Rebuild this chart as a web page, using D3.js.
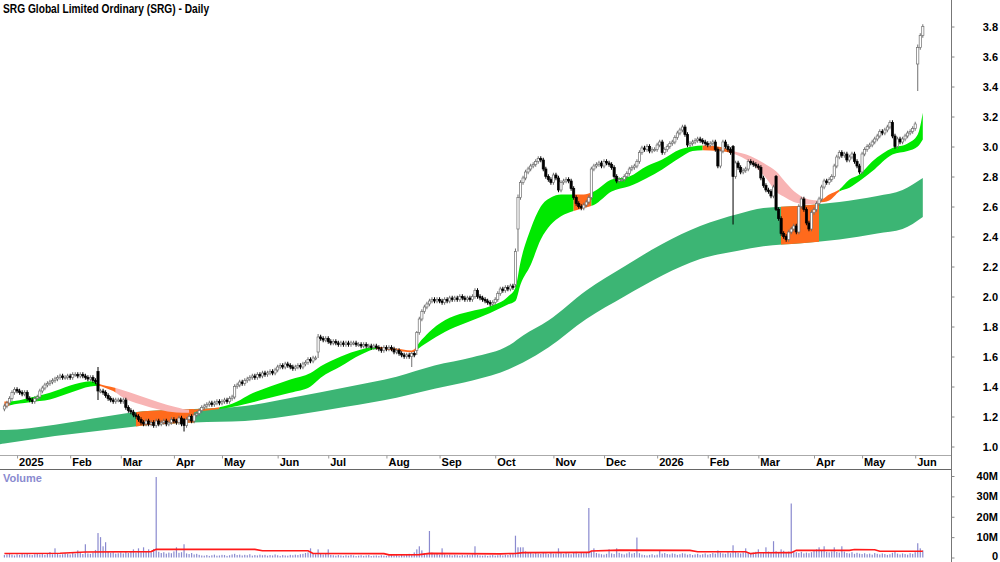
<!DOCTYPE html>
<html lang="en">
<head>
<meta charset="UTF-8">
<title>SRG Global Limited Ordinary (SRG) - Daily</title>
<style>
  body { margin: 0; background: #fff; }
  svg text { font-family: "Liberation Sans", Arial, sans-serif; font-weight: bold; }
  .up { fill: #fff; stroke: #707070; stroke-width: 0.7px; }
  .down { fill: #000; stroke: #000; stroke-width: 0.7px; }
  .wick-up { stroke: #707070; stroke-width: 1px; }
  .wick-down { stroke: #000; stroke-width: 1px; }
</style>
</head>
<body>
<script src="https://d3js.org/d3.v7.min.js"></script>
<script>
// one close per ASX trading day, 23 Dec 2024 .. 4 Jun 2026
const closes = [
  1.27,1.29,1.32,1.36,1.38, 1.37,1.36,1.35,1.36,1.32, 1.31,1.30,1.32,1.33,1.37,
  1.39,1.41,1.42,1.43,1.44, 1.45,1.46,1.47,1.46,1.46, 1.47,1.46,1.48,1.48,1.47,
  1.48,1.47,1.46,1.45,1.46, 1.44,1.43,1.37,1.37,1.36, 1.34,1.32,1.31,1.30,1.31,
  1.31,1.30,1.31,1.26,1.24, 1.23,1.21,1.20,1.18,1.16, 1.15,1.17,1.15,1.16,1.14,
  1.17,1.15,1.16,1.17,1.15, 1.16,1.18,1.17,1.16,1.19, 1.15,1.14,1.18,1.20,1.17,
  1.21,1.22,1.24,1.26,1.27, 1.28,1.29,1.28,1.29,1.30, 1.29,1.30,1.31,1.30,1.32,
  1.33,1.40,1.41,1.43,1.42, 1.44,1.45,1.46,1.47,1.46, 1.48,1.47,1.49,1.48,1.49,
  1.50,1.49,1.51,1.53,1.54, 1.53,1.55,1.54,1.53,1.52, 1.53,1.54,1.53,1.55,1.56,
  1.58,1.57,1.59,1.59,1.73, 1.72,1.71,1.72,1.70,1.69, 1.70,1.69,1.68,1.69,1.68,
  1.69,1.68,1.69,1.69,1.68, 1.68,1.67,1.68,1.67,1.67, 1.66,1.67,1.66,1.65,1.64,
  1.66,1.65,1.66,1.65,1.63, 1.64,1.62,1.61,1.60,1.61, 1.60,1.62,1.61,1.76,1.85,
  1.90,1.93,1.95,1.97,1.98, 1.97,1.98,1.97,1.96,1.98, 1.97,1.99,1.98,1.99,1.98,
  2.00,1.99,1.98,1.99,1.98, 2.00,2.04,2.00,1.99,1.98, 1.97,1.96,1.95,1.96,1.98,
  2.02,2.05,2.04,2.06,2.05, 2.07,2.06,2.30,2.66,2.76, 2.79,2.83,2.85,2.87,2.88,
  2.90,2.92,2.91,2.85,2.80, 2.78,2.76,2.81,2.79,2.71, 2.76,2.77,2.78,2.77,2.72,
  2.66,2.62,2.60,2.59,2.61, 2.63,2.66,2.85,2.87,2.88, 2.89,2.87,2.90,2.89,2.88,
  2.86,2.80,2.77,2.78,2.78, 2.80,2.82,2.85,2.86,2.87, 2.90,2.96,2.99,2.98,3.00,
  2.97,2.98,2.98,3.01,3.03, 2.96,2.98,3.00,3.02,3.03, 3.06,3.09,3.11,3.13,3.08,
  3.01,3.02,3.03,3.04,3.05, 3.04,3.03,3.02,3.01,3.02, 3.03,2.98,2.87,2.97,3.03,
  3.00,2.98,2.96,2.80,2.89, 2.86,2.83,2.84,2.85,2.90, 2.89,2.88,2.87,2.86,2.79,
  2.74,2.71,2.70,2.67,2.73, 2.58,2.52,2.42,2.40,2.38, 2.43,2.45,2.47,2.43,2.60,
  2.65,2.58,2.49,2.45,2.56, 2.58,2.62,2.65,2.73,2.77, 2.76,2.78,2.80,2.87,2.93,
  2.96,2.94,2.95,2.91,2.93, 2.95,2.90,2.87,2.83,2.95, 2.98,3.00,3.01,3.03,3.05,
  3.07,3.10,3.09,3.11,3.13, 3.16,3.07,3.00,3.05,3.03, 3.05,3.07,3.09,3.10,3.12,
  3.15,3.66,3.74,3.80
];

// bars with a gap open or a long wick: [day, open, high, low]
const bigBars = [
  [37, 1.50, 1.53, 1.31], [71, 1.18, 1.19, 1.10], [124, 1.63, 1.75, 1.59],
  [161, 1.60, 1.63, 1.53], [163, 1.64, 1.77, 1.61], [202, 2.08, 2.32, 2.06],
  [203, 2.45, 2.68, 2.30], [288, 3.00, 3.01, 2.48], [305, 2.80, 2.81, 2.57],
  [361, 3.55, 3.68, 3.37]
];

// daily volume, millions of shares
const volumes = [
  1.2,1.5,1.8,1.4,1.0,1.6,1.3,1.7,1.5,2.0, 1.4,1.2,1.6,1.9,1.5,1.7,1.3,1.8,2.7,1.6,
  4.5,1.9,1.4,1.6,2.1,1.8,1.5,2.3,1.9,3.5, 2.2,1.7,6.5,2.0,1.8,2.4,3.7,12,10,5.5,
  7.5,2.8,2.3,2.6,1.9,2.1,2.5,2.0,2.7,2.2, 2.9,4.0,2.4,4.5,2.6,5.0,3.1,4.0,2.5,4.2,
  39.5,2.8,2.2,2.6,1.9,2.4,2.1,3.0,5.0,2.3, 2.6,6.5,2.0,1.7,2.2,1.5,1.8,1.3,1.0,0.9,
  1.2,0.8,1.1,1.4,0.9,1.0,1.3,1.2,0.8,1.1, 1.5,1.8,1.2,1.4,1.0,1.3,1.1,1.6,0.9,1.2,
  1.0,1.4,1.1,1.3,0.9,1.2,1.0,1.5,1.1,0.8, 1.2,1.0,0.9,1.3,1.1,1.4,1.2,1.6,1.8,2.2,
  2.5,4.5,1.8,1.6,4.0,2.2,1.5,1.9,4.0,1.3, 1.1,0.9,1.2,1.0,0.8,1.1,0.9,1.3,1.0,0.7,
  0.9,1.1,0.8,1.0,1.2,0.7,0.9,1.0,0.8,1.1, 0.9,0.8,1.0,1.2,0.9,1.1,0.8,1.3,1.0,1.4,
  1.8,1.2,2.5,4.0,5.5,3.5,2.1,1.9,13,2.4, 1.6,1.8,1.4,4.5,1.5,1.2,1.4,1.0,1.3,1.1,
  0.9,1.2,1.0,1.3,1.1,1.5,5.5,1.2,1.0,0.9, 1.1,0.8,1.0,1.2,0.9,1.1,1.3,1.0,1.4,1.2,
  1.5,1.8,10.7,5.0,5.0,5.0,3.0,2.5,2.2,1.9, 2.4,2.0,1.8,2.6,2.1,1.7,2.3,1.9,2.0,4.5,
  2.2,1.8,2.5,2.0,1.6,2.3,2.8,1.9,2.4,2.1, 2.6,24.3,3.0,4.5,2.2,1.9,1.6,1.4,1.8,4.0,
  2.0,1.7,4.5,2.3,1.8,1.5,2.0,2.6,1.9,2.2, 9.8,2.1,1.4,1.2,1.0,1.3,1.6,1.1,1.4,3.5,
  1.9,2.2,1.7,1.5,2.0,1.8,1.3,1.6,2.1,1.9, 1.4,1.7,1.2,1.5,1.8,1.3,1.6,2.0,1.4,1.7,
  2.2,1.9,3.5,2.4,2.0,1.8,2.6,2.1,6.0,2.7, 2.3,2.0,2.5,4.5,2.2,1.9,2.4,2.8,4.0,2.1,
  2.6,5.0,2.9,2.3,8.0,3.1,2.7,4.0,3.3,2.4, 2.9,26.5,3.2,2.6,2.2,2.8,2.0,2.4,2.1,2.6,
  3.5,4.0,5.0,3.2,5.5,2.8,2.5,3.0,5.0,2.7, 2.4,5.5,2.9,2.2,2.0,2.6,1.8,2.3,1.9,1.7,
  2.1,1.6,1.9,1.4,2.2,1.8,1.5,2.0,1.7,1.3, 1.6,2.3,2.8,1.9,1.5,2.0,1.7,1.4,2.1,1.8,
  2.6,7.0,4.5,3.5
];

// volume average (red line): [day, millions]
const volumeAvg = [
  [0, 2.0], [22, 2.1], [32, 2.7], [58, 2.9], [60, 4.0], [99, 4.0], [102, 3.3],
  [120, 3.3], [122, 2.0], [150, 1.9], [152, 1.3], [164, 1.4], [168, 2.0],
  [196, 1.8], [202, 2.0], [205, 2.4], [231, 2.5], [232, 3.2], [243, 3.6],
  [271, 3.5], [274, 2.8], [293, 2.8], [295, 1.9], [298, 2.3], [311, 2.4],
  [313, 3.5], [334, 3.5], [336, 3.9], [344, 3.8], [346, 3.1], [363, 3.1]
];

// short-term ribbon: [day, top, bottom]
const shortBand = [
  [0, 1.30, 1.26], [2, 1.30, 1.273], [10, 1.325, 1.295], [18, 1.358, 1.313],
  [26, 1.407, 1.358], [34, 1.435, 1.40], [37, 1.42, 1.405], [40, 1.405, 1.39],
  [44, 1.39, 1.36], [46, 1.38, 1.335], [54, 1.335, 1.28], [61, 1.295, 1.247],
  [68, 1.262, 1.227], [73, 1.245, 1.225], [77, 1.25, 1.235], [85, 1.262, 1.25],
  [92, 1.30, 1.27], [97, 1.347, 1.29], [105, 1.40, 1.325], [113, 1.447, 1.358],
  [121, 1.49, 1.40], [125, 1.535, 1.458], [133, 1.60, 1.535], [141, 1.647, 1.613],
  [147, 1.665, 1.65], [154, 1.655, 1.64], [161, 1.64, 1.628], [165, 1.713, 1.67],
  [169, 1.78, 1.713], [176, 1.858, 1.78], [184, 1.90, 1.835], [192, 1.935, 1.89],
  [199, 1.998, 1.947], [202, 2.06, 1.97], [204, 2.23, 2.08], [208, 2.45, 2.21],
  [212, 2.60, 2.38], [216, 2.66, 2.48], [220, 2.68, 2.535], [225, 2.68, 2.57],
  [229, 2.68, 2.59], [233, 2.70, 2.61], [240, 2.78, 2.70], [247, 2.80, 2.735],
  [254, 2.87, 2.79], [260, 2.913, 2.847], [267, 2.98, 2.925], [272, 3.00, 2.97],
  [276, 3.007, 2.975], [282, 3.00, 2.97], [288, 2.97, 2.953], [295, 2.935, 2.89],
  [301, 2.88, 2.79], [305, 2.835, 2.70], [309, 2.757, 2.657], [313, 2.69, 2.625],
  [318, 2.647, 2.613], [322, 2.64, 2.625], [326, 2.68, 2.64], [330, 2.713, 2.70],
  [334, 2.78, 2.725], [338, 2.813, 2.77], [343, 2.90, 2.835], [351, 2.99, 2.947],
  [357, 3.02, 2.97], [361, 3.08, 3.00], [363, 3.225, 3.047]
];

// long-term ribbon: [day, top, bottom]
const longBand = [
  [-2, 1.11, 1.015], [0, 1.11, 1.02], [20, 1.145, 1.07], [40, 1.20, 1.11],
  [55, 1.235, 1.14], [75, 1.25, 1.16], [95, 1.27, 1.17], [115, 1.33, 1.21],
  [135, 1.395, 1.265], [155, 1.465, 1.325], [170, 1.54, 1.385], [185, 1.595, 1.44],
  [200, 1.68, 1.52], [205, 1.74, 1.56], [215, 1.84, 1.66], [230, 2.04, 1.85],
  [245, 2.20, 2.00], [260, 2.35, 2.14], [275, 2.47, 2.25], [290, 2.55, 2.305],
  [300, 2.59, 2.335], [315, 2.605, 2.355], [330, 2.63, 2.38], [345, 2.67, 2.42],
  [355, 2.71, 2.45], [363, 2.79, 2.53]
];

// ribbon colouring: [from day, to day, state]
const shortStates = [
  [0, 2, 'mixed'], [2, 37, 'up'], [37, 44, 'mixed'], [44, 73, 'down'],
  [73, 85, 'mixed'], [85, 147, 'up'], [147, 163, 'mixed'], [163, 225, 'up'],
  [225, 232, 'mixed'], [232, 276, 'up'], [276, 288, 'mixed'], [288, 322, 'down'],
  [322, 330, 'mixed'], [330, 363, 'up']
];
const longMixed = [[52, 75], [307, 322]];

const priceTicks = [1.0, 1.2, 1.4, 1.6, 1.8, 2.0, 2.2, 2.4, 2.6, 2.8, 3.0, 3.2, 3.4, 3.6, 3.8];
const volumeTicks = [0, 10, 20, 30, 40];
const holidays = ['2024-12-25', '2024-12-26', '2025-01-01', '2025-01-27', '2025-04-18',
  '2025-04-21', '2025-04-25', '2025-06-09', '2025-12-25', '2025-12-26', '2026-01-01',
  '2026-01-26', '2026-04-03', '2026-04-06', '2026-04-27'];

const stateColour = { up: '#00e800', down: '#f8b4b4', mixed: '#ff6a1c' };

const width = 1000;
const height = 562;
const axisX = 951;

// trading calendar
const days = [];
const cur = new Date(Date.UTC(2024, 11, 23));
while (days.length < closes.length) {
  const wd = cur.getUTCDay();
  const key = cur.toISOString().slice(0, 10);
  if (wd !== 0 && wd !== 6 && !holidays.includes(key)) days.push(new Date(cur));
  cur.setUTCDate(cur.getUTCDate() + 1);
}

const x = d3.scaleLinear().domain([0, 363]).range([4.4, 922.8]);
const y = d3.scaleLinear().domain([1.0, 3.8]).range([446.5, 26.5]);
const yv = d3.scaleLinear().domain([0, 40]).range([557.5, 476]);

const svg = d3.select('body').append('svg')
  .attr('width', width)
  .attr('height', height);

svg.append('rect').attr('width', width).attr('height', height).attr('fill', '#fff');

const defs = svg.append('defs');
defs.append('clipPath').attr('id', 'price-clip')
  .append('rect').attr('x', 0).attr('y', 0).attr('width', axisX).attr('height', 455);

const priceG = svg.append('g').attr('clip-path', 'url(#price-clip)');

const bandArea = d3.area()
  .x(d => x(d[0]))
  .y0(d => y(d[2]))
  .y1(d => y(d[1]))
  .curve(d3.curveMonotoneX);

// long ribbon
priceG.append('path')
  .datum(longBand)
  .attr('fill', '#3cb574')
  .attr('d', bandArea);

longMixed.forEach((s, k) => {
  defs.append('clipPath').attr('id', 'long-' + k)
    .append('rect')
    .attr('x', x(s[0])).attr('y', 0)
    .attr('width', x(s[1]) - x(s[0])).attr('height', 455);
  priceG.append('path')
    .datum(longBand)
    .attr('fill', stateColour.mixed)
    .attr('clip-path', `url(#long-${k})`)
    .attr('d', bandArea);
});

// short ribbon, coloured by state
shortStates.forEach((s, k) => {
  const x0 = k === 0 ? 0 : x(s[0]);
  const x1 = k === shortStates.length - 1 ? axisX : x(s[1]);
  defs.append('clipPath').attr('id', 'short-' + k)
    .append('rect')
    .attr('x', x0).attr('y', 0)
    .attr('width', x1 - x0).attr('height', 455);
  priceG.append('path')
    .datum(shortBand)
    .attr('fill', stateColour[s[2]])
    .attr('clip-path', `url(#short-${k})`)
    .attr('d', bandArea);
});

// candles
const bars = closes.map((c, i) => {
  const o = i === 0 ? c - 0.02 : closes[i - 1];
  return { i, o, c, h: Math.max(o, c) + 0.015, l: Math.min(o, c) - 0.015 };
});
bigBars.forEach(([i, o, h, l]) => Object.assign(bars[i], { o, h, l }));

const candle = priceG.append('g').selectAll('g')
  .data(bars)
  .join('g');

candle.append('line')
  .attr('class', d => d.c >= d.o ? 'wick-up' : 'wick-down')
  .attr('x1', d => x(d.i)).attr('x2', d => x(d.i))
  .attr('y1', d => y(d.h)).attr('y2', d => y(d.l));

candle.append('rect')
  .attr('class', d => d.c >= d.o ? 'up' : 'down')
  .attr('x', d => x(d.i) - 1.1)
  .attr('width', 2.2)
  .attr('y', d => y(Math.max(d.o, d.c)))
  .attr('height', d => Math.max(1, Math.abs(y(d.o) - y(d.c))));

// volume
svg.append('g').selectAll('rect')
  .data(volumes)
  .join('rect')
  .attr('x', (d, i) => x(i) - 0.6)
  .attr('width', 1.2)
  .attr('y', d => yv(d))
  .attr('height', d => yv(0) - yv(d))
  .attr('fill', '#8a8acf');

svg.append('path')
  .datum(volumeAvg)
  .attr('fill', 'none')
  .attr('stroke', '#ff1a1a')
  .attr('stroke-width', 1.6)
  .attr('d', d3.line().x(d => x(d[0])).y(d => yv(d[1])));

svg.append('text')
  .attr('x', 3).attr('y', 482)
  .attr('fill', '#8a8acf')
  .style('font-size', '11px')
  .text('Volume');

// frame
svg.append('line').attr('x1', axisX + 0.5).attr('x2', axisX + 0.5).attr('y1', 0).attr('y2', height)
  .attr('stroke', '#777');
svg.append('line').attr('x1', 0).attr('x2', axisX).attr('y1', 455.5).attr('y2', 455.5)
  .attr('stroke', '#aaa').attr('stroke-width', 1.2);
svg.append('line').attr('x1', 0).attr('x2', axisX).attr('y1', 469.5).attr('y2', 469.5)
  .attr('stroke', '#666');

// date axis
const monthStarts = d3.range(1, days.length)
  .filter(i => days[i].getUTCMonth() !== days[i - 1].getUTCMonth());
const fmtMonth = d3.utcFormat('%b');

const dateAxis = svg.append('g')
  .attr('transform', 'translate(0,455.5)')
  .call(d3.axisBottom(x)
    .tickValues(monthStarts)
    .tickSize(3)
    .tickFormat(i => days[i].getUTCMonth() === 0 ? String(days[i].getUTCFullYear()) : fmtMonth(days[i])));
dateAxis.select('.domain').remove();
dateAxis.selectAll('.tick line').attr('stroke', '#999');
dateAxis.selectAll('.tick text')
  .attr('text-anchor', 'start')
  .attr('x', 1.5)
  .attr('y', 3)
  .attr('fill', '#000')
  .style('font-size', '11px');

// price axis
const priceAxis = svg.append('g')
  .attr('transform', `translate(${axisX + 0.5},0)`)
  .call(d3.axisRight(y).tickValues(priceTicks).tickSize(3).tickFormat(d3.format('.1f')));
priceAxis.select('.domain').remove();
priceAxis.selectAll('.tick line').attr('stroke', '#888');
priceAxis.selectAll('.tick text')
  .attr('text-anchor', 'end')
  .attr('x', 46.5)
  .attr('fill', '#000')
  .style('font-size', '11px');

// volume axis
const volAxis = svg.append('g')
  .attr('transform', `translate(${axisX + 0.5},0)`)
  .call(d3.axisRight(yv).tickValues(volumeTicks).tickSize(3).tickFormat(d => d === 0 ? '0' : d + 'M'));
volAxis.select('.domain').remove();
volAxis.selectAll('.tick line').attr('stroke', '#888');
volAxis.selectAll('.tick text')
  .attr('text-anchor', 'end')
  .attr('x', 46.5)
  .attr('fill', '#000')
  .style('font-size', '11px');
volAxis.selectAll('.tick text').filter(d => d === 0).attr('dy', '0.2em');

// title
svg.append('text')
  .attr('transform', 'translate(3,13) scale(0.85,1)')
  .attr('fill', '#000')
  .style('font-size', '12px')
  .text('SRG Global Limited Ordinary (SRG) - Daily');
</script>
</body>
</html>
